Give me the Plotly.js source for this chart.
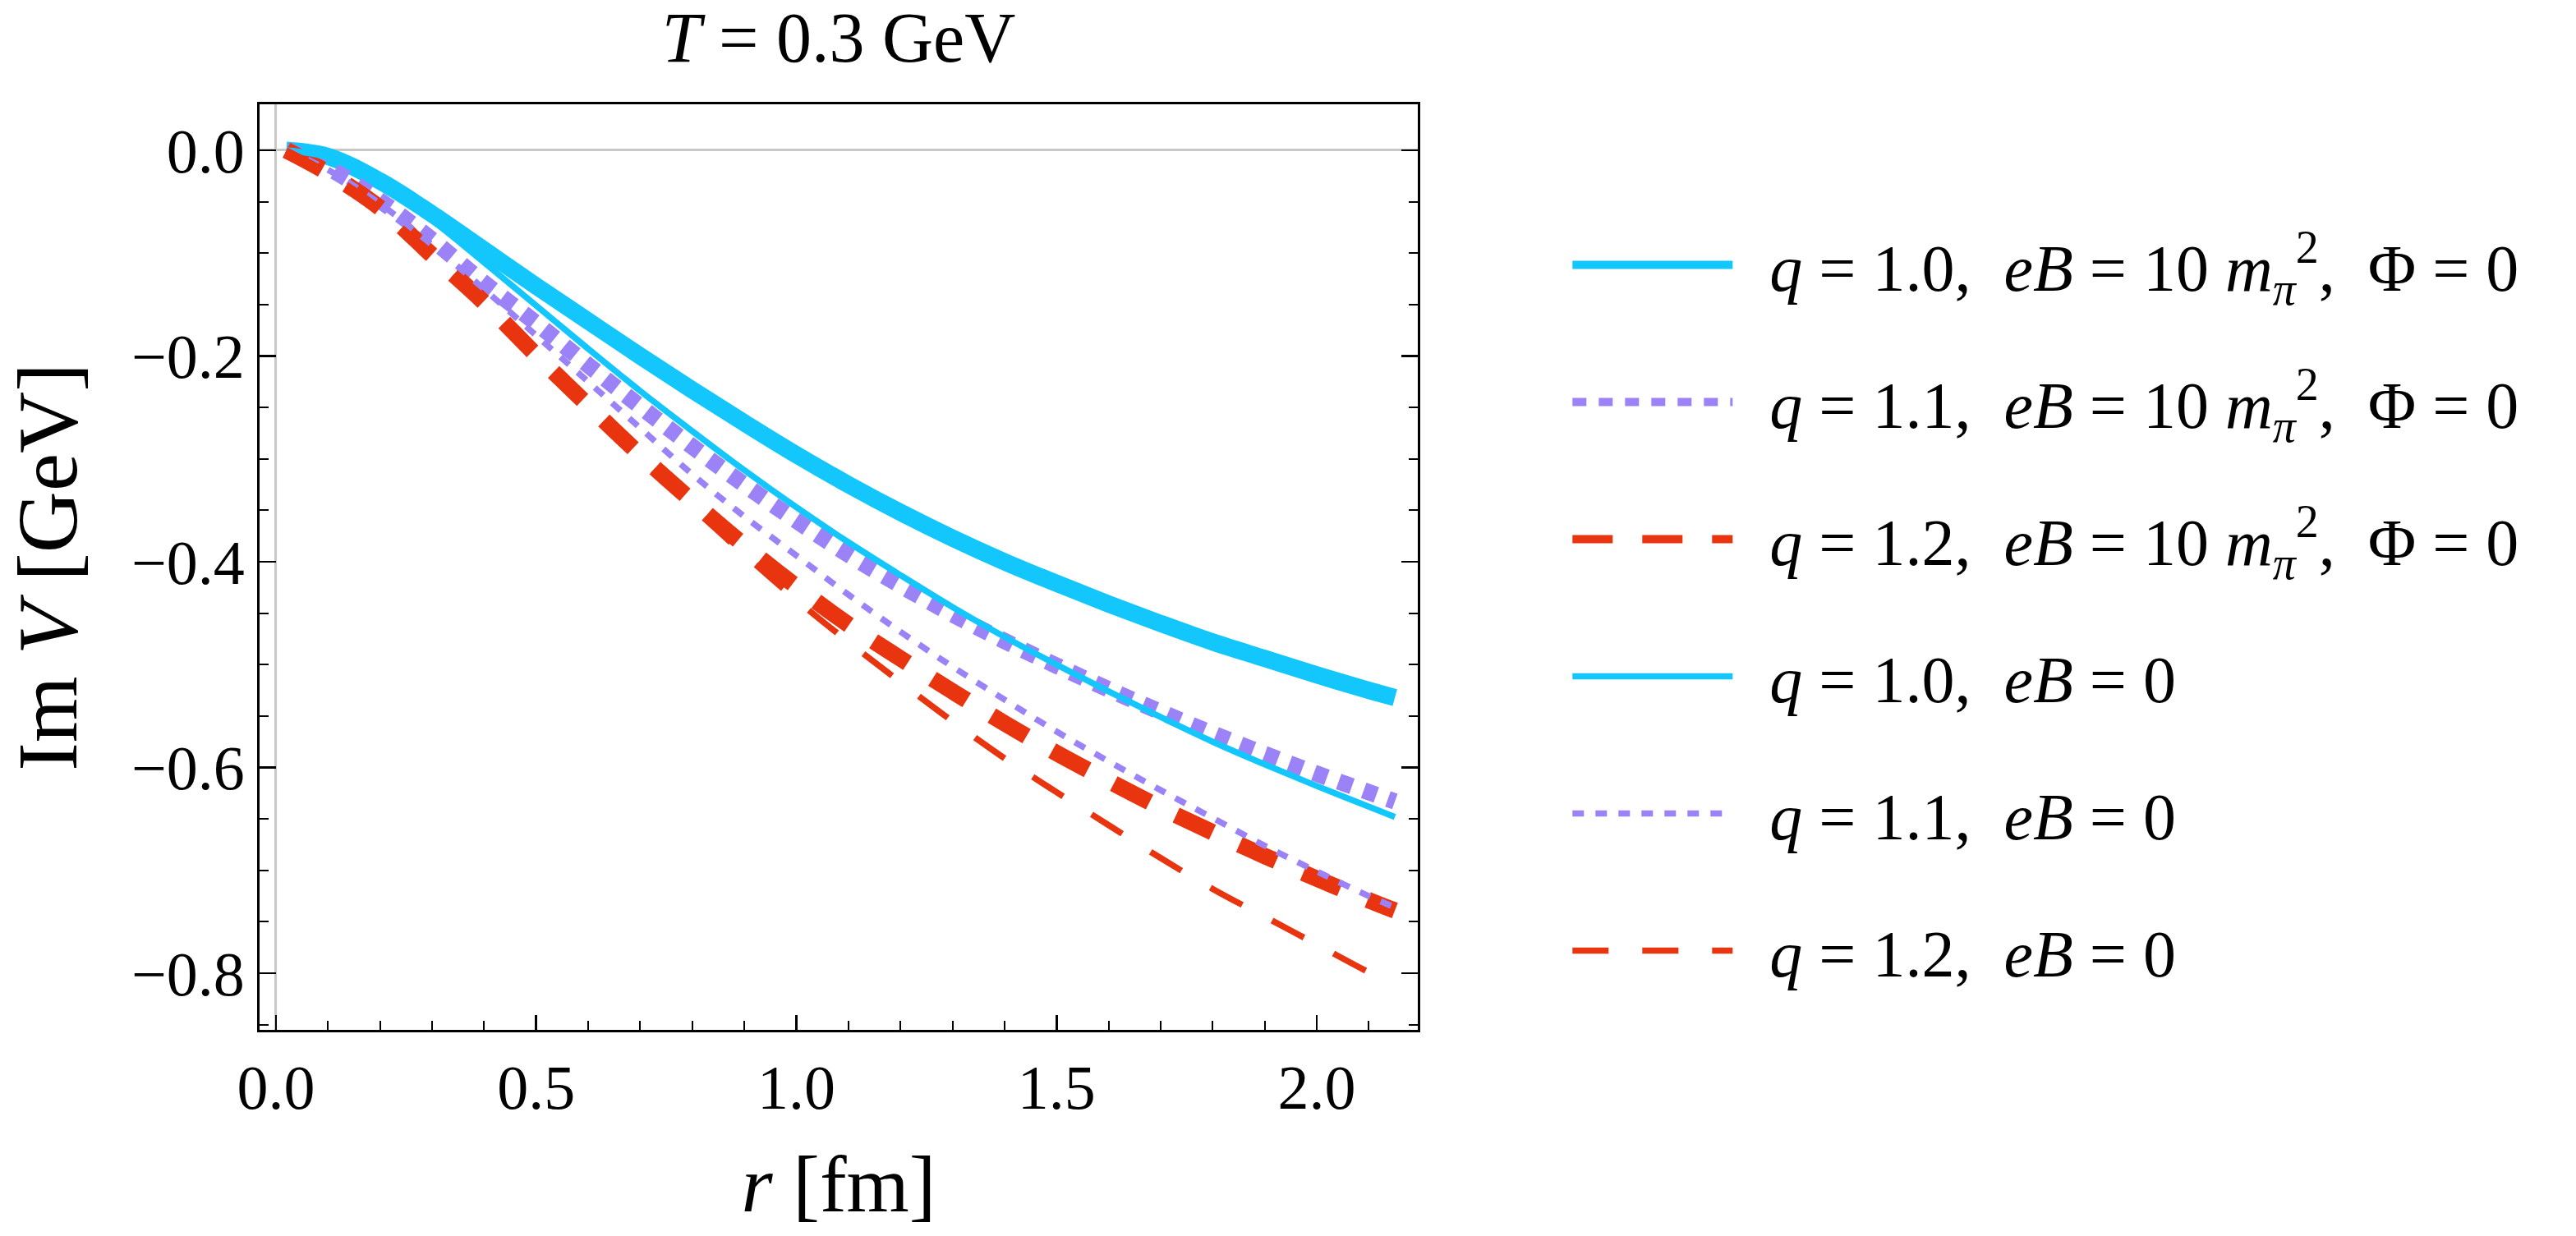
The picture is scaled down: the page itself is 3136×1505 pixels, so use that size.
<!DOCTYPE html>
<html>
<head>
<meta charset="utf-8">
<script src="https://cdn.plot.ly/plotly-3.0.1.min.js"></script>
<style>
  html, body { margin: 0; padding: 0; background: #fff; }
  #plot { width: 3136px; height: 1505px; }
</style>
</head>
<body>
<div id="plot"></div>
<script>
// r in fm, Im V in GeV (T = 0.3 GeV)
var r = [0.02, 0.1, 0.2, 0.3, 0.4, 0.5, 0.6, 0.7, 0.8, 0.9, 1.0, 1.1, 1.2, 1.3, 1.4, 1.5, 1.6, 1.7, 1.8, 1.9, 2.0, 2.1, 2.15];

// eB = 10 m_pi^2, Phi = 0
var q10_eB10 = [0.000, -0.006, -0.030, -0.062, -0.097, -0.132, -0.166, -0.200, -0.233, -0.265, -0.296, -0.325, -0.352, -0.377, -0.400, -0.421, -0.441, -0.460, -0.478, -0.494, -0.510, -0.525, -0.532];
var q11_eB10 = [0.000, -0.017, -0.049, -0.087, -0.129, -0.168, -0.209, -0.249, -0.288, -0.325, -0.360, -0.393, -0.423, -0.451, -0.477, -0.501, -0.524, -0.546, -0.567, -0.587, -0.606, -0.624, -0.633];
var q12_eB10 = [0.000, -0.022, -0.056, -0.102, -0.148, -0.199, -0.248, -0.296, -0.341, -0.384, -0.424, -0.461, -0.494, -0.526, -0.557, -0.586, -0.613, -0.639, -0.663, -0.686, -0.708, -0.729, -0.739];

// eB = 0
var q10_eB0 = [0.000, -0.007, -0.032, -0.068, -0.109, -0.151, -0.193, -0.234, -0.273, -0.311, -0.347, -0.381, -0.413, -0.444, -0.473, -0.500, -0.526, -0.551, -0.575, -0.597, -0.618, -0.638, -0.648];
var q11_eB0 = [0.000, -0.019, -0.052, -0.092, -0.135, -0.180, -0.225, -0.270, -0.315, -0.356, -0.394, -0.432, -0.468, -0.502, -0.534, -0.565, -0.594, -0.622, -0.649, -0.676, -0.701, -0.725, -0.736];
var q12_eB0 = [0.000, -0.022, -0.057, -0.103, -0.150, -0.201, -0.251, -0.300, -0.347, -0.393, -0.437, -0.478, -0.517, -0.555, -0.591, -0.624, -0.656, -0.688, -0.718, -0.745, -0.772, -0.799, -0.811];

var pad = '\u00a0\u00a0';
var names = [
	pad + '<i>q</i> = 1.0,  <i>eB</i> = 10 <i>m</i><sub><i>π</i></sub><sup>2</sup>,  Φ = 0',
	pad + '<i>q</i> = 1.1,  <i>eB</i> = 10 <i>m</i><sub><i>π</i></sub><sup>2</sup>,  Φ = 0',
	pad + '<i>q</i> = 1.2,  <i>eB</i> = 10 <i>m</i><sub><i>π</i></sub><sup>2</sup>,  Φ = 0',
	pad + '<i>q</i> = 1.0,  <i>eB</i> = 0',
	pad + '<i>q</i> = 1.1,  <i>eB</i> = 0',
	pad + '<i>q</i> = 1.2,  <i>eB</i> = 0'
];

var cyan = '#13C7FD';
var purple = '#9B83F7';
var red = '#E8340F';

function curve(y, name, color, width, dash, group) {
	return {
		x: r,
		y: y,
		name: name,
		legendgroup: group,
		mode: 'lines',
		line: { color: color, width: width, dash: dash, shape: 'spline', smoothing: 1 }
	};
}

var data = [
	curve(q10_eB10, names[0], cyan, 21, 'solid', 'a'),
	curve(q11_eB10, names[1], purple, 20, '17px,15px', 'b'),
	curve(q12_eB10, names[2], red, 20, '49px,36px', 'c'),
	curve(q10_eB0, names[3], cyan, 7.5, 'solid', 'd'),
	curve(q11_eB0, names[4], purple, 7.5, '14px,14px', 'e'),
	curve(q12_eB0, names[5], red, 7.5, '44px,41px', 'f')
];

var serif = 'Liberation Serif, Times New Roman, serif';

var layout = {
	autosize: false,
	width: 3136,
	height: 1505,
	paper_bgcolor: '#ffffff',
	plot_bgcolor: '#ffffff',
	hovermode: false,
	margin: { l: 316, r: 1410, t: 127, b: 251 },
	font: { family: serif, size: 76, color: '#000000' },
	title: {
		text: '<i>T</i> = 0.3 GeV',
		font: { family: serif, size: 86, color: '#000000' },
		x: 0.5,
		xref: 'paper',
		y: 0.97,
		yref: 'container',
		yanchor: 'middle'
	},
	showlegend: true,
	legend: {
		x: 1.13,
		xanchor: 'left',
		y: 0.456,
		yanchor: 'middle',
		itemwidth: 195,
		tracegroupgap: 60,
		font: { family: serif, size: 80, color: '#000000' },
		bgcolor: 'rgba(0,0,0,0)'
	},
	xaxis: {
		range: [-0.0315, 2.194],
		autorange: false,
		showgrid: false,
		zeroline: true,
		zerolinecolor: '#c8c8c8',
		zerolinewidth: 3,
		showline: true,
		linecolor: '#000000',
		linewidth: 3,
		mirror: true,
		ticks: 'inside',
		ticklen: 18,
		tickwidth: 2.5,
		tickcolor: '#000000',
		tick0: 0,
		dtick: 0.5,
		tickformat: '.1f',
		ticklabelstandoff: 2,
		minor: { ticks: 'inside', dtick: 0.1, ticklen: 11, tickwidth: 2, tickcolor: '#000000' },
		tickfont: { family: serif, size: 76, color: '#000000' },
		title: {
			text: '<i>r</i> [fm]',
			font: { family: serif, size: 98, color: '#000000' },
			standoff: 42
		}
	},
	yaxis: {
		range: [-0.855, 0.0447],
		autorange: false,
		showgrid: false,
		zeroline: true,
		zerolinecolor: '#c8c8c8',
		zerolinewidth: 3,
		showline: true,
		linecolor: '#000000',
		linewidth: 3,
		mirror: 'ticks',
		ticks: 'inside',
		ticklen: 20,
		tickwidth: 2.5,
		tickcolor: '#000000',
		tick0: 0,
		dtick: 0.2,
		tickformat: '.1f',
		ticklabelstandoff: 0,
		minor: { ticks: 'inside', dtick: 0.05, ticklen: 11, tickwidth: 2, tickcolor: '#000000' },
		tickfont: { family: serif, size: 76, color: '#000000' },
		title: {
			text: 'Im <i>V</i> [GeV]',
			font: { family: serif, size: 104, color: '#000000' },
			standoff: 32
		}
	}
};

Plotly.newPlot('plot', data, layout, { staticPlot: true, displayModeBar: false });
</script>
</body>
</html>
